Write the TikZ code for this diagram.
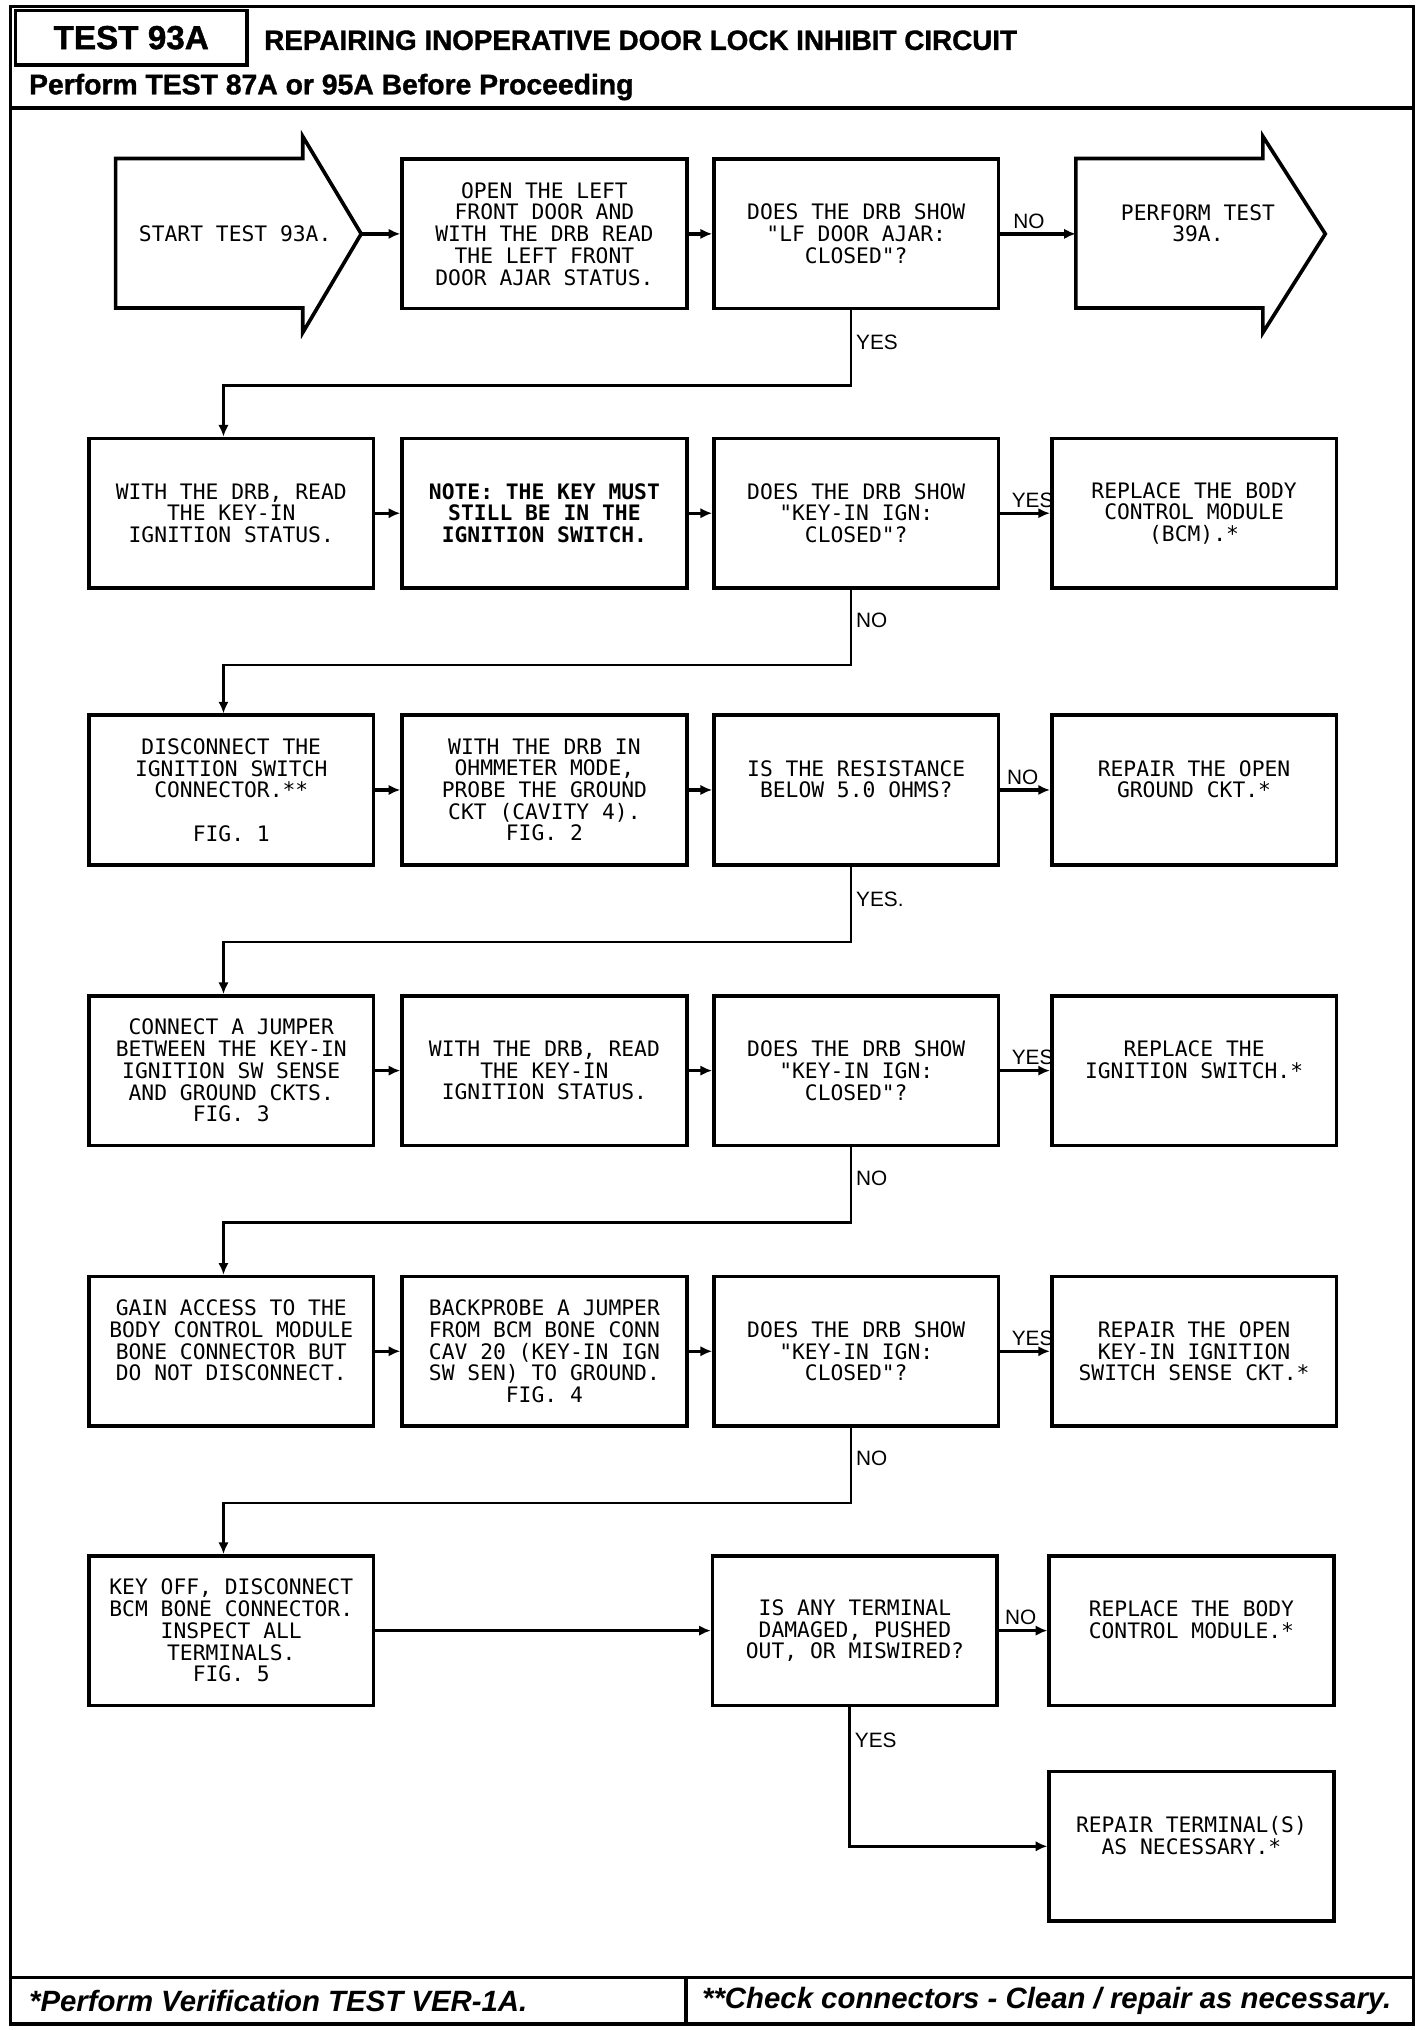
\documentclass[tikz,border=0pt]{standalone}
\usepackage{fontspec}
\usetikzlibrary{arrows.meta,positioning}
\newfontfamily\plotfont{DejaVu Sans Mono}
\newfontfamily\labfont{Liberation Sans}
\newfontfamily\headfont[BoldFeatures={FakeBold=1.2}]{Liberation Sans}
\tikzset{
	stepbox/.style={draw, line width=1.4pt, minimum width=109.5pt, minimum height=57.5pt,
		align=center, inner sep=0pt, font=\plotfont\fontsize{8.2}{8.35}\selectfont},
	plaintxt/.style={align=center, inner sep=0pt, font=\plotfont\fontsize{8.2}{8.35}\selectfont},
	flow/.style={line width=1.3pt, -{Latex[length=4.5pt,width=4pt]}},
	route/.style={line width=1pt, -{Latex[length=4.5pt,width=4pt]}},
	ans/.style={font=\labfont\fontsize{8}{9}\selectfont, inner sep=1.5pt},
	frame/.style={line width=1.4pt}
}
\begin{document}
\begin{tikzpicture}[x=0.5pt, y=-0.5pt]
	\useasboundingbox (0,0) rectangle (1096,1562.4);
	% header and footer
	\draw[frame] (8,5) rectangle (1088,1558);
	\node[draw, line width=1.4pt, minimum width=89pt, minimum height=21pt, inner sep=0pt,
		font=\headfont\bfseries\fontsize{12.8}{14}\selectfont] (testno) at (101,29) {TEST 93A};
	\node[anchor=west, inner sep=0pt, font=\headfont\bfseries\fontsize{10.7}{12}\selectfont] (title) at (203,31) {REPAIRING INOPERATIVE DOOR LOCK INHIBIT CIRCUIT};
	\node[anchor=west, inner sep=0pt, font=\headfont\bfseries\fontsize{10.9}{12}\selectfont] (before) at (22,67) {Perform TEST 87A or 95A Before Proceeding};
	\draw[frame] (8,83) -- (1088,83);
	\draw[frame] (8,1522) -- (1088,1522);
	\draw[frame] (528,1522) -- (528,1558);
	\node[anchor=west, inner sep=0pt, font=\headfont\bfseries\itshape\fontsize{11.3}{12}\selectfont] (note1) at (22,1540) {*Perform Verification TEST VER-1A.};
	\node[anchor=west, inner sep=0pt, font=\headfont\bfseries\itshape\fontsize{11.3}{12}\selectfont] (note2) at (540,1540) {**Check connectors - Clean / repair as necessary.};
	
	% row 1
	\draw[frame] (89,122) -- (233,122) -- (233,105) -- (278,180) -- (233,256) -- (233,237) -- (89,237) -- cycle;
	\node[plaintxt] (s1) at (181,180) {START TEST 93A.};
	\coordinate (s1tip) at (278,180);
	\node[stepbox] (b1) at (419,180) {OPEN THE LEFT\\FRONT DOOR AND\\WITH THE DRB READ\\THE LEFT FRONT\\DOOR AJAR STATUS.};
	\node[stepbox] (q1) at (659,180) {DOES THE DRB SHOW\\"LF DOOR AJAR:\\CLOSED"?};
	\draw[frame] (828,122) -- (972,122) -- (972,105) -- (1020,180) -- (972,256) -- (972,237) -- (828,237) -- cycle;
	\node[plaintxt] (p1) at (922,180) {PERFORM TEST\\39A.\\~};
	\coordinate (p1in) at (828,180);
	
	% row 2
	\node[stepbox] (a2) at (178,395) {WITH THE DRB, READ\\THE KEY-IN\\IGNITION STATUS.};
	\node[stepbox, font=\plotfont\bfseries\fontsize{8.2}{8.35}\selectfont] (n2) at (419,395) {NOTE: THE KEY MUST\\STILL BE IN THE\\IGNITION SWITCH.};
	\node[stepbox] (q2) at (659,395) {DOES THE DRB SHOW\\"KEY-IN IGN:\\CLOSED"?};
	\node[stepbox] (r2) at (919,395) {REPLACE THE BODY\\CONTROL MODULE\\(BCM).*};
	
	% row 3
	\node[stepbox] (a3) at (178,608) {DISCONNECT THE\\IGNITION SWITCH\\CONNECTOR.**\\~\\FIG. 1};
	\node[stepbox] (b3) at (419,608) {WITH THE DRB IN\\OHMMETER MODE,\\PROBE THE GROUND\\CKT (CAVITY 4).\\FIG. 2};
	\node[stepbox] (q3) at (659,608) {IS THE RESISTANCE\\BELOW 5.0 OHMS?\\~};
	\node[stepbox] (r3) at (919,608) {REPAIR THE OPEN\\GROUND CKT.*\\~};
	
	% row 4
	\node[stepbox] (a4) at (178,824) {CONNECT A JUMPER\\BETWEEN THE KEY-IN\\IGNITION SW SENSE\\AND GROUND CKTS.\\FIG. 3};
	\node[stepbox] (b4) at (419,824) {WITH THE DRB, READ\\THE KEY-IN\\IGNITION STATUS.};
	\node[stepbox] (q4) at (659,824) {DOES THE DRB SHOW\\"KEY-IN IGN:\\CLOSED"?};
	\node[stepbox] (r4) at (919,824) {REPLACE THE\\IGNITION SWITCH.*\\~};
	
	% row 5
	\node[stepbox] (a5) at (178,1040) {GAIN ACCESS TO THE\\BODY CONTROL MODULE\\BONE CONNECTOR BUT\\DO NOT DISCONNECT.\\~};
	\node[stepbox] (b5) at (419,1040) {BACKPROBE A JUMPER\\FROM BCM BONE CONN\\CAV 20 (KEY-IN IGN\\SW SEN) TO GROUND.\\FIG. 4};
	\node[stepbox] (q5) at (659,1040) {DOES THE DRB SHOW\\"KEY-IN IGN:\\CLOSED"?};
	\node[stepbox] (r5) at (919,1040) {REPAIR THE OPEN\\KEY-IN IGNITION\\SWITCH SENSE CKT.*};
	
	% row 6
	\node[stepbox] (a6) at (178,1255) {KEY OFF, DISCONNECT\\BCM BONE CONNECTOR.\\INSPECT ALL\\TERMINALS.\\FIG. 5};
	\node[stepbox] (q6) at (658,1255) {IS ANY TERMINAL\\DAMAGED, PUSHED\\OUT, OR MISWIRED?};
	\node[stepbox] (r6) at (917,1255) {REPLACE THE BODY\\CONTROL MODULE.*\\~};
	\node[stepbox] (r7) at (917,1421) {REPAIR TERMINAL(S)\\AS NECESSARY.*\\~};
	
	% connectors
	\draw[flow] (s1tip) -- (b1);
	\draw[flow] (b1) -- (q1);
	\draw[flow] (q1) -- node[ans, above, pos=0.38] {NO} (p1in);
	\draw[route] ([xshift=-2pt]q1.south) -- node[ans, right, pos=0.43] {YES} ++(0,58) -| ([xshift=-3pt]a2.north);
	
	\draw[flow] (a2) -- (n2);
	\draw[flow] (n2) -- (q2);
	\draw[flow] (q2) -- node[ans, above, pos=0.65] {YES} (r2);
	\draw[route] ([xshift=-2pt]q2.south) -- node[ans, right, pos=0.41] {NO} ++(0,58) -| ([xshift=-3pt]a3.north);
	
	\draw[flow] (a3) -- (b3);
	\draw[flow] (b3) -- (q3);
	\draw[flow] (q3) -- node[ans, above, pos=0.45] {NO} (r3);
	\draw[route] ([xshift=-2pt]q3.south) -- node[ans, right, pos=0.43] {YES.} ++(0,58) -| ([xshift=-3pt]a4.north);
	
	\draw[flow] (a4) -- (b4);
	\draw[flow] (b4) -- (q4);
	\draw[flow] (q4) -- node[ans, above, pos=0.65] {YES} (r4);
	\draw[route] ([xshift=-2pt]q4.south) -- node[ans, right, pos=0.41] {NO} ++(0,58) -| ([xshift=-3pt]a5.north);
	
	\draw[flow] (a5) -- (b5);
	\draw[flow] (b5) -- (q5);
	\draw[flow] (q5) -- node[ans, above, pos=0.65] {YES} (r5);
	\draw[route] ([xshift=-2pt]q5.south) -- node[ans, right, pos=0.41] {NO} ++(0,58) -| ([xshift=-3pt]a6.north);
	
	\draw[flow] (a6) -- (q6);
	\draw[flow] (q6) -- node[ans, above, pos=0.45] {NO} (r6);
	\draw[route] ([xshift=-2pt]q6.south) |- node[ans, right, pos=0.12] {YES} (r7.west);
\end{tikzpicture}
\end{document}
